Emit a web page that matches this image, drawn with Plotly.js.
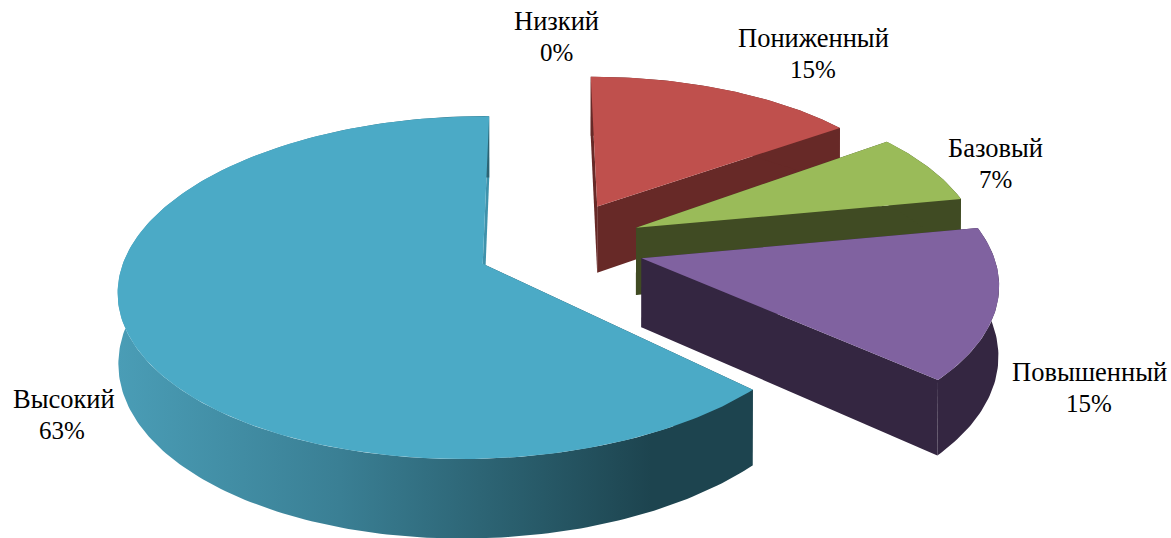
<!DOCTYPE html>
<html lang="ru">
<head>
<meta charset="utf-8">
<script src="https://cdn.plot.ly/plotly-3.0.1.min.js"></script>
<style>html,body{margin:0;padding:0;background:#fff}#chart{width:1171px;height:538px}</style>
</head>
<body>
<div id="chart"></div>
<script>
const categories = ["Низкий", "Пониженный", "Базовый", "Повышенный", "Высокий"];
const values = [0, 15, 7, 15, 63];
const topColors = ["#F79646", "#BF504D", "#9ABB59", "#8062A0", "#4BAAC6"];
const wallColors = ["#7F4A20", "#672927", "#404B23", "#342641", "#1D444F"];
const endFaceColors = ["#7F4A20", "#672927", "#404B23", "#342641", "#3F92AB"];
const wallGradients = {
  "Высокий": [[0, "#4A9DB6"], [0.35, "#3A7F94"], [0.62, "#2A5F6E"], [0.84, "#1D444F"], [1, "#1D444F"]]
};
const nameAnchors = [[556, 21], [813, 38], [995, 148], [1089, 372], [64, 399]];
const percentAnchors = [[556, 52], [813, 69], [995, 179], [1089, 403], [62, 430]];

// perspective camera for a tilted, exploded disc
const cam = {cx: 560.5, cy: 245.5, f: 2322, D: 6.45, sinT: 0.47, cosT: 0.883, thick: 0.215, zPersp: 0.1,
             explode: 0.232, explodeY: 1.15};
// small per-slice rim corrections (radius, shift X, shift Y, start-angle offset, end-angle offset)
const rimFit = [[1, 0, 0, 0, 0], [0.94, -0.008, -0.022, 0, 0], [0.96, 0, 0, 0, 0],
                [0.96, 0.01, 0, 0, -0.02], [0.965, -0.02, -0.005, -0.012, 0.012]];

function project(X, Y, Z) {
  const v = Y * cam.sinT + Z * cam.cosT;
  const w = cam.D + Y * cam.cosT - Z * cam.sinT * cam.zPersp;
  return [cam.cx + cam.f * X / w, cam.cy - cam.f * v / w];
}
const total = values.reduce((a, b) => a + b, 0);
const traces = [];
function addPoly(pts, color, name, gradient) {
  const t = {
    type: "scatter", mode: "lines", fill: "toself", name: name,
    x: pts.map(p => p[0]), y: pts.map(p => p[1]),
    line: {width: 0, color: color}, fillcolor: color,
    hoverinfo: "name", showlegend: false
  };
  if (gradient) t.fillgradient = {type: "horizontal", colorscale: gradient};
  traces.push(t);
}
const slices = [];
let acc = 0;
categories.forEach((c, i) => {
  slices.push({i: i, a0: acc / total * 2 * Math.PI, a1: (acc + values[i]) / total * 2 * Math.PI});
  acc += values[i];
});
slices.filter(s => values[s.i] > 0).forEach(s => {
  const mid = (s.a0 + s.a1) / 2;
  const ox = cam.explode * Math.sin(mid), oy = cam.explode * cam.explodeY * Math.cos(mid);
  const fit = rimFit[s.i];
  const start = s.a0 + fit[3], end = s.a1 + fit[4];
  const steps = Math.max(8, Math.round((end - start) * 60));
  const rimTop = [], rimBot = [];
  for (let k = 0; k <= steps; k++) {
    const a = start + (end - start) * k / steps;
    const X = ox + fit[1] + fit[0] * Math.sin(a), Y = oy + fit[2] + fit[0] * Math.cos(a);
    rimTop.push(project(X, Y, 0));
    rimBot.push(project(X, Y, -cam.thick));
  }
  const apexTop = project(ox, oy, 0), apexBot = project(ox, oy, -cam.thick);
  const name = categories[s.i];
  addPoly([apexTop, rimTop[0], rimBot[0], apexBot, apexTop], wallColors[s.i], name);
  addPoly([apexTop, rimTop[steps], rimBot[steps], apexBot, apexTop], endFaceColors[s.i], name);
  addPoly(rimTop.concat(rimBot.slice().reverse()).concat([rimTop[0]]), wallColors[s.i], name, wallGradients[name]);
  addPoly([apexTop].concat(rimTop).concat([apexTop]), topColors[s.i], name);
});
const labelFont = size => ({family: "'Liberation Serif', serif", size: size, color: "#000"});
const annotations = [];
categories.forEach((c, i) => {
  annotations.push({xref: "x", yref: "y", x: nameAnchors[i][0], y: nameAnchors[i][1], text: c,
    showarrow: false, xanchor: "center", yanchor: "middle", font: labelFont(26.5)});
  annotations.push({xref: "x", yref: "y", x: percentAnchors[i][0], y: percentAnchors[i][1], text: values[i] + "%",
    showarrow: false, xanchor: "center", yanchor: "middle", font: labelFont(25)});
});
const layout = {
  width: 1171, height: 538,
  margin: {l: 0, r: 0, t: 0, b: 0},
  paper_bgcolor: "#fff", plot_bgcolor: "#fff",
  showlegend: false,
  xaxis: {range: [0, 1171], visible: false, fixedrange: true},
  yaxis: {range: [538, 0], visible: false, fixedrange: true},
  annotations: annotations
};
Plotly.newPlot("chart", traces, layout, {displayModeBar: false});
</script>
</body>
</html>
